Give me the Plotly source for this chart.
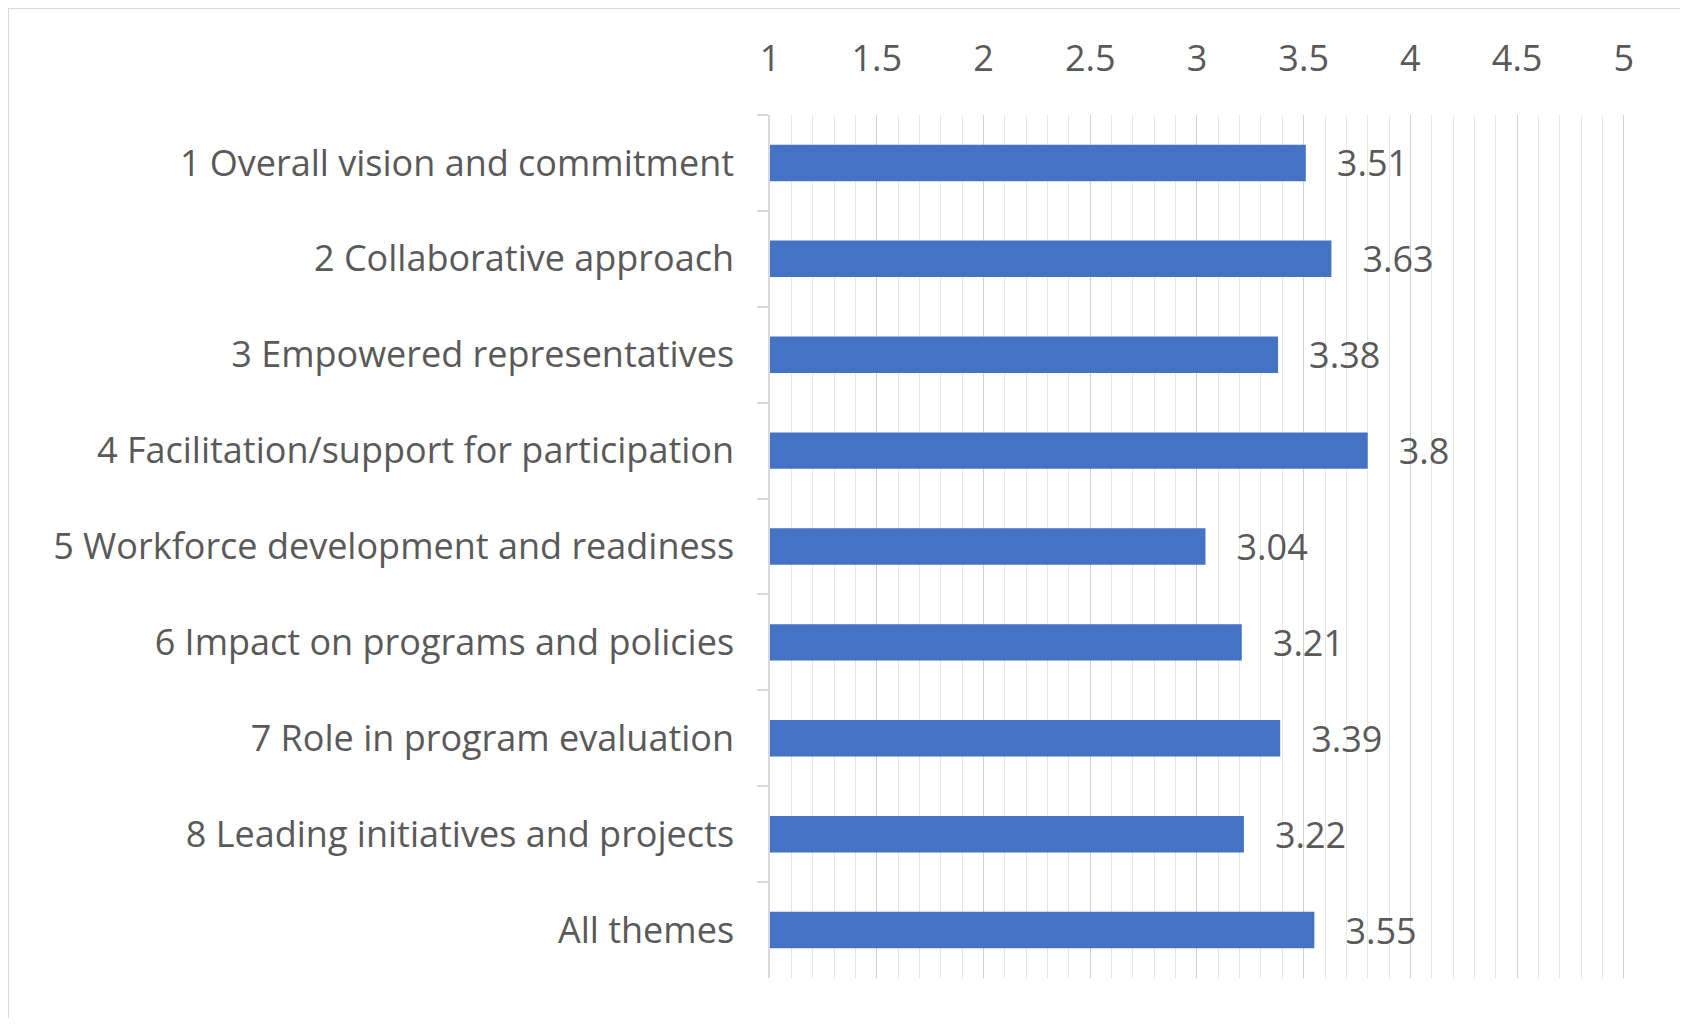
import plotly.graph_objects as go

categories = [
    "1 Overall vision and commitment",
    "2 Collaborative approach",
    "3 Empowered representatives",
    "4 Facilitation/support for participation",
    "5 Workforce development and readiness",
    "6 Impact on programs and policies",
    "7 Role in program evaluation",
    "8 Leading initiatives and projects",
    "All themes",
]
values = [3.51, 3.63, 3.38, 3.8, 3.04, 3.21, 3.39, 3.22, 3.55]
value_labels = ["3.51", "3.63", "3.38", "3.8", "3.04", "3.21", "3.39", "3.22", "3.55"]
tick_vals = [1, 1.5, 2, 2.5, 3, 3.5, 4, 4.5, 5]
tick_text = ["1", "1.5", "2", "2.5", "3", "3.5", "4", "4.5", "5"]

FONT = "Open Sans"
TXT = "#595959"
FS = 36

fig = go.Figure()
fig.add_trace(go.Bar(
    y=categories,
    x=[v - 1 for v in values],
    base=1,
    orientation="h",
    marker=dict(color="#4472C4", line=dict(width=0)),
    width=0.38,
    text=["\u00a0\u00a0\u00a0" + t for t in value_labels],
    textposition="outside",
    constraintext="none",
    textfont=dict(family=FONT, size=FS, color=TXT),
    cliponaxis=False,
    hoverinfo="skip",
))

# page has an 8px body margin, so the figure is offset by 8px
W, H = 1678, 1010
ml, mr, mt, mb = 762, 60, 107, 40

fig.update_layout(
    width=W, height=H,
    margin=dict(l=ml, r=mr, t=mt, b=mb, pad=0),
    paper_bgcolor="white",
    plot_bgcolor="white",
    showlegend=False,
    font=dict(family=FONT, color=TXT),
    xaxis=dict(
        side="top",
        range=[1, 5.01],
        tickvals=tick_vals,
        ticktext=tick_text,
        tickfont=dict(family=FONT, size=FS, color=TXT),
        showgrid=True,
        gridcolor="#d0d0d0",
        gridwidth=1.3,
        minor=dict(dtick=0.1, tick0=1, showgrid=True, gridcolor="#e6e6e6", gridwidth=1),
        zeroline=False,
        showline=False,
        ticks="",
        ticklabelstandoff=36,
        fixedrange=True,
    ),
    yaxis=dict(
        categoryorder="array",
        categoryarray=categories,
        autorange="reversed",
        tickfont=dict(family=FONT, size=FS, color=TXT),
        showline=True,
        linecolor="#d9d9d9",
        linewidth=1.5,
        ticks="outside",
        tickson="boundaries",
        ticklen=11,
        tickcolor="#d9d9d9",
        tickwidth=1.5,
        ticklabelstandoff=27,
        showgrid=False,
        zeroline=False,
        fixedrange=True,
    ),
)

# outer frame around the chart (paper coordinates)
pw = W - ml - mr
ph = H - mt - mb
fig.add_shape(
    type="rect", xref="paper", yref="paper",
    x0=(0 - ml) / pw, x1=(1674 - ml) / pw,
    y0=((H - mb) - 1040) / ph, y1=((H - mb) - 0) / ph,
    line=dict(color="#d9d9d9", width=2),
    fillcolor="rgba(0,0,0,0)",
    layer="below",
)

fig.write_html("out.html")
